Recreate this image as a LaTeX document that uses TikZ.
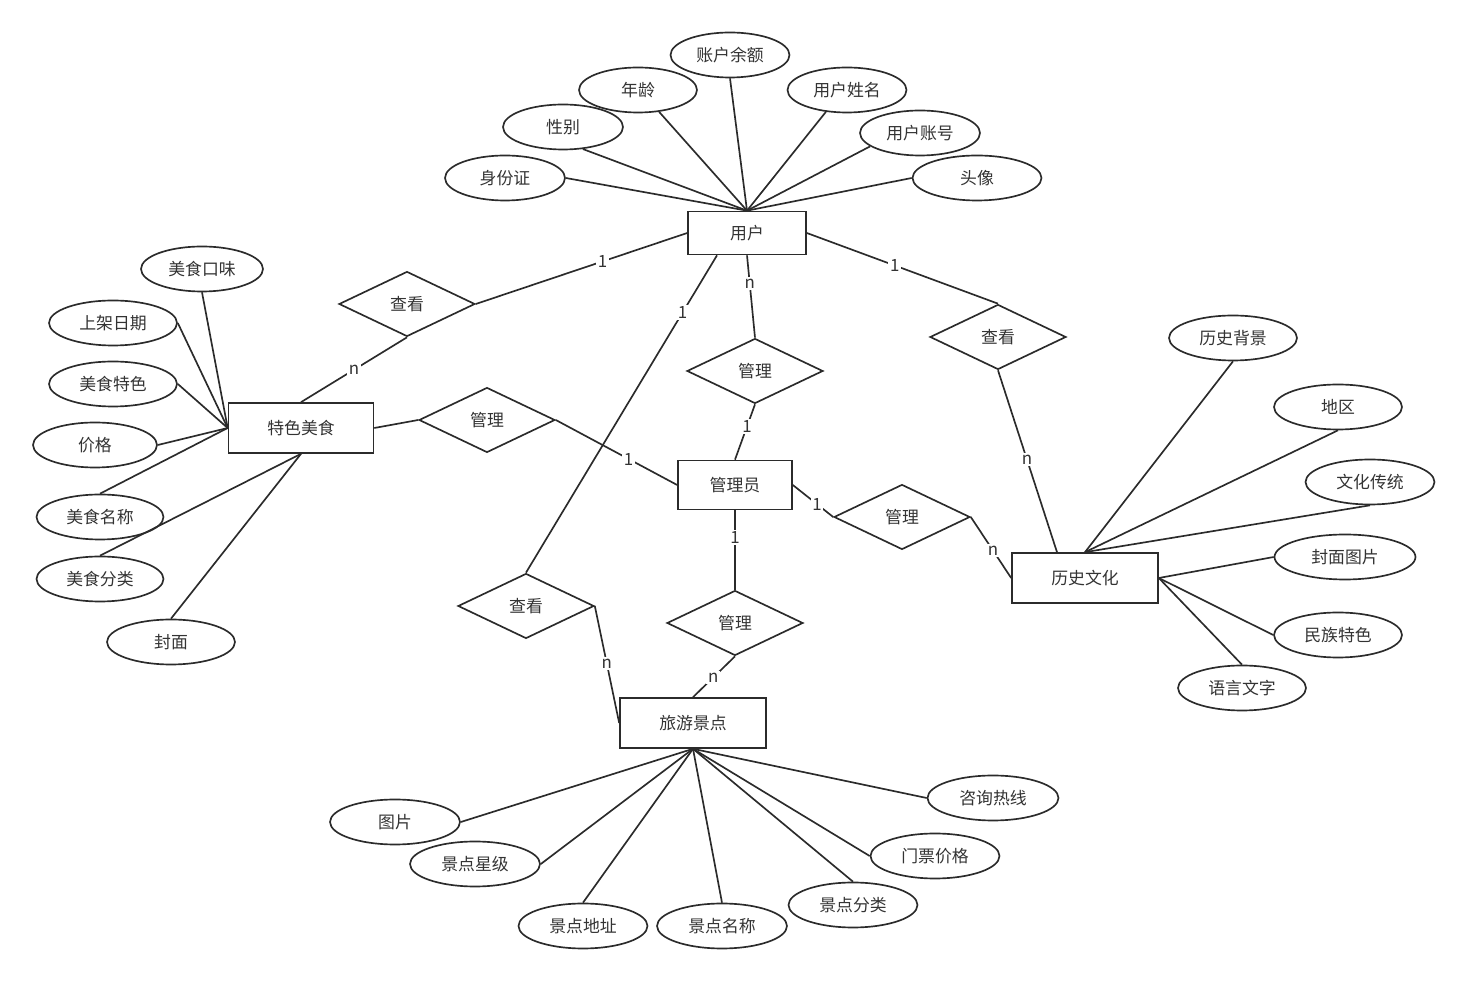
\documentclass[tikz,border=0pt]{standalone}
\usepackage{fontspec}
\setmainfont{Noto Sans CJK SC}
\usetikzlibrary{shapes.geometric,calc}
\definecolor{lncol}{HTML}{2B2B2B}
\definecolor{txcol}{HTML}{333333}
\begin{document}
\begin{tikzpicture}[x=0.02cm,y=-0.02cm,
  font=\fontsize{9.6}{11}\selectfont, color=lncol, text=txcol, line width=0.95pt,
  ent/.style={draw, rectangle, minimum width=2.9cm, minimum height=1cm, inner sep=0pt},
  rel/.style={draw, diamond, minimum width=2.72cm, minimum height=1.3cm, inner sep=0pt},
  attr/.style={draw, ellipse, minimum width=2.56cm, minimum height=0.9cm, inner sep=0pt},
  lbl/.style={fill=white, inner sep=1pt, font=\fontsize{9.6}{10}\selectfont}]
\useasboundingbox (0,0) rectangle (1465,982);
% entities
\node[ent, minimum width=2.36cm, minimum height=0.86cm] (user) at (747,233) {用户};
\node[ent] (food) at (301,428) {特色美食};
\node[ent, minimum width=2.28cm, minimum height=0.98cm] (admin) at (735,485) {管理员};
\node[ent, minimum width=2.92cm] (hist) at (1085,578) {历史文化};
\node[ent, minimum width=2.92cm] (tour) at (693,723) {旅游景点};
% relationships
\node[rel] (r1) at (407,304) {查看};
\node[rel] (r2) at (487,420) {管理};
\node[rel] (r3) at (755,371) {管理};
\node[rel] (r4) at (998,337) {查看};
\node[rel] (r5) at (902,517) {管理};
\node[rel] (r6) at (735,623) {管理};
\node[rel] (r7) at (526,606) {查看};
% user attributes
\node[attr, minimum width=2.4cm] (a1) at (505,178) {身份证};
\node[attr, minimum width=2.4cm] (a2) at (563,127) {性别};
\node[attr, minimum width=2.36cm] (a3) at (638,90) {年龄};
\node[attr, minimum width=2.38cm] (a4) at (730,55) {账户余额};
\node[attr, minimum width=2.38cm] (a5) at (847,90) {用户姓名};
\node[attr, minimum width=2.4cm] (a6) at (920,133) {用户账号};
\node[attr, minimum width=2.58cm] (a7) at (977,178) {头像};
% food attributes
\node[attr, minimum width=2.44cm] (b1) at (202,269) {美食口味};
\node[attr] (b2) at (113,323) {上架日期};
\node[attr] (b3) at (113,384) {美食特色};
\node[attr, minimum width=2.48cm] (b4) at (95,445) {价格};
\node[attr, minimum width=2.54cm] (b5) at (100,517) {美食名称};
\node[attr, minimum width=2.54cm] (b6) at (100,579) {美食分类};
\node[attr] (b7) at (171,642) {封面};
% history attributes
\node[attr] (c1) at (1233,338) {历史背景};
\node[attr] (c2) at (1338,407) {地区};
\node[attr, minimum width=2.58cm] (c3) at (1370,482) {文化传统};
\node[attr, minimum width=2.82cm] (c4) at (1345,557) {封面图片};
\node[attr] (c5) at (1338,635) {民族特色};
\node[attr] (c6) at (1242,688) {语言文字};
% tour attributes
\node[attr, minimum width=2.6cm] (d1) at (395,822) {图片};
\node[attr, minimum width=2.6cm] (d2) at (475,864) {景点星级};
\node[attr, minimum width=2.58cm] (d3) at (583,926) {景点地址};
\node[attr, minimum width=2.6cm] (d4) at (722,926) {景点名称};
\node[attr, minimum width=2.58cm] (d5) at (853,905) {景点分类};
\node[attr, minimum width=2.58cm] (d6) at (935,856) {门票价格};
\node[attr, minimum width=2.62cm] (d7) at (993,798) {咨询热线};
% attribute lines
\foreach \a in {a1.east,a2.-48,a3.-46,a4.south,a5.-134,a6.-165,a7.west}
  \draw (user.north) -- (\a);
\foreach \a in {b1.south,b2.east,b3.east,b4.east,b5.north}
  \draw (food.west) -- (\a);
\foreach \a in {b6.north,b7.north}
  \draw (food.south) -- (\a);
\foreach \a in {c1.south,c2.south,c3.south}
  \draw (hist.north) -- (\a);
\foreach \a in {c4.west,c5.west,c6.north}
  \draw (hist.east) -- (\a);
\foreach \a in {d1.east,d2.east,d3.north,d4.north,d5.north,d6.west,d7.west}
  \draw (tour.south) -- (\a);
% relationship lines
\coordinate (uo) at ($(user.south)+(-30,0)$);
\coordinate (hi) at ($(hist.north)+(-28,0)$);
\draw (food.north) -- node[lbl,pos=0.5]{n} (r1.south);
\draw (r1.east) -- node[lbl,pos=0.6]{1} (user.west);
\draw (food.east) -- (r2.west);
\draw (r2.east) -- node[lbl,pos=0.6]{1} (admin.west);
\draw (user.south) -- node[lbl,pos=0.34]{n} (r3.north);
\draw (r3.south) -- node[lbl,pos=0.4]{1} (admin.north);
\draw (uo) -- node[lbl,pos=0.18]{1} (r7.north);
\draw (user.east) -- node[lbl,pos=0.46]{1} (r4.north);
\draw (r4.south) -- node[lbl,pos=0.49]{n} (hi);
\draw (admin.east) -- node[lbl,pos=0.6]{1} (r5.west);
\draw (r5.east) -- node[lbl,pos=0.55]{n} (hist.west);
\draw (admin.south) -- node[lbl,pos=0.34]{1} (r6.north);
\draw (r6.south) -- node[lbl,pos=0.52]{n} (tour.north);
\draw (r7.east) -- node[lbl,pos=0.49]{n} (tour.west);
\end{tikzpicture}
\end{document}
